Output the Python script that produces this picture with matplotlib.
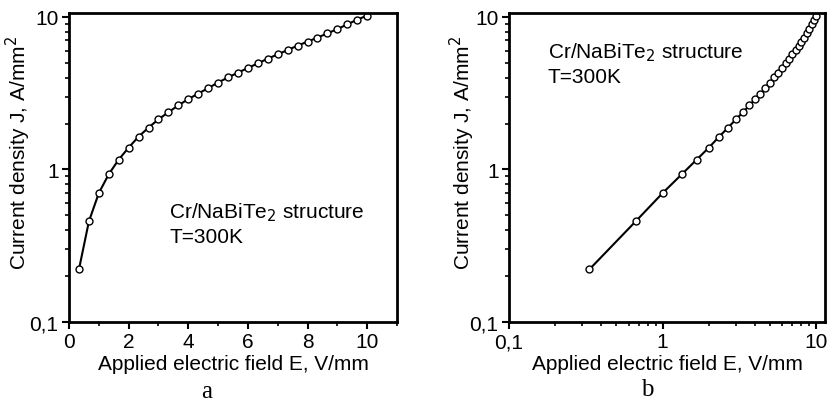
import numpy as np
import matplotlib
matplotlib.use("Agg")
import matplotlib.pyplot as plt
from matplotlib.ticker import FixedLocator, FixedFormatter, LogLocator, NullFormatter, MultipleLocator

plt.rcParams['font.family'] = ['Liberation Sans', 'DejaVu Sans']

field_E = [1/3, 2/3, 1.0, 4/3, 5/3, 2.0, 7/3, 8/3, 3.0, 10/3, 11/3, 4.0, 13/3, 14/3, 5.0,
           16/3, 17/3, 6.0, 19/3, 20/3, 7.0, 22/3, 23/3, 8.0, 25/3, 26/3, 9.0, 28/3, 29/3, 10.0]
current_J = [0.221, 0.456, 0.70, 0.93, 1.16, 1.39, 1.64, 1.88, 2.13, 2.37, 2.63, 2.89, 3.14, 3.41, 3.71,
             4.01, 4.31, 4.62, 4.96, 5.32, 5.68, 6.06, 6.48, 6.88, 7.31, 7.80, 8.32, 8.93, 9.59, 10.2]
y_ticks = [0.1, 1, 10]
y_ticklabels = ["0,1", "1", "10"]
xb_ticks = [0.1, 1, 10]
xb_ticklabels = ["0,1", "1", "10"]
annotation_lines = ["Cr/NaBiTe$_2$ structure", "T=300K"]
xlabel = "Applied electric field E, V/mm"
ylabel = "Current density J, A/mm$^2$"

W, H = 832, 402
fig = plt.figure(figsize=(W/100, H/100), dpi=100)

def px_axes(x0, y0, x1, y1):
    return fig.add_axes([x0/W, 1 - y1/H, (x1-x0)/W, (y1-y0)/H])

def px_text(x, y, s, **kw):
    fig.text(x/W, 1 - y/H, s, **kw)

axA = px_axes(69, 14, 397, 323)
axB = px_axes(509, 14, 825, 323)

for ax in (axA, axB):
    ax.plot(field_E, current_J, color='black', lw=1.5, marker='o', ms=5,
            mfc='white', mec='black', mew=1.0)
    ax.set_yscale('log')
    ax.set_ylim(0.1, 10.6)
    ax.yaxis.set_major_locator(FixedLocator(y_ticks))
    ax.yaxis.set_major_formatter(FixedFormatter(y_ticklabels))
    ax.yaxis.set_minor_locator(LogLocator(base=10, subs=np.arange(2, 10)))
    ax.yaxis.set_minor_formatter(NullFormatter())
    for s in ax.spines.values():
        s.set_linewidth(2.0)
    ax.tick_params(which='both', direction='out', top=False, right=False, labelsize=15)
    ax.tick_params(which='major', length=5, width=1.5, pad=2.5)
    ax.tick_params(which='minor', length=3, width=1.2)
    ax.set_xlabel(xlabel, fontsize=15, labelpad=2)
    ax.set_ylabel(ylabel, fontsize=15)

axA.yaxis.set_label_coords(-0.110, 0.55)
axB.yaxis.set_label_coords(-0.100, 0.55)

axA.set_xlim(0, 11)
axA.xaxis.set_major_locator(MultipleLocator(2))
axA.xaxis.set_minor_locator(MultipleLocator(1))

axB.set_xscale('log')
axB.set_xlim(0.1, 11.4)
axB.xaxis.set_major_locator(FixedLocator(xb_ticks))
axB.xaxis.set_major_formatter(FixedFormatter(xb_ticklabels))
axB.xaxis.set_minor_locator(LogLocator(base=10, subs=np.arange(2, 10)))
axB.xaxis.set_minor_formatter(NullFormatter())

px_text(169, 218, annotation_lines[0], fontsize=15, va='baseline')
px_text(169, 243, annotation_lines[1], fontsize=15, va='baseline')
px_text(548, 58, annotation_lines[0], fontsize=15, va='baseline')
px_text(548, 83, annotation_lines[1], fontsize=15, va='baseline')

px_text(207, 392, "a", fontsize=18, family=['Liberation Serif'], ha='center', va='center')
px_text(647, 390, "b", fontsize=18, family=['Liberation Serif'], ha='center', va='center')

fig.savefig("out.png", dpi=100)
